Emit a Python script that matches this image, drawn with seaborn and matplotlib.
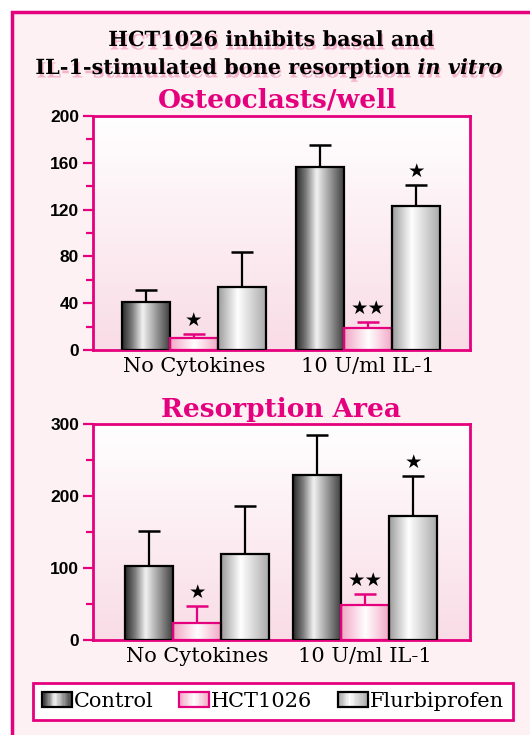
import numpy as np
import pandas as pd
import matplotlib
matplotlib.use("Agg")
import matplotlib.pyplot as plt
import matplotlib.patheffects as pe
from matplotlib.colors import LinearSegmentedColormap
from matplotlib.patches import Rectangle, Patch
from matplotlib.legend_handler import HandlerBase
from matplotlib.ticker import MultipleLocator
import seaborn as sns

# data
groups = ["No Cytokines", "10 U/ml IL-1"]
treatments = ["Control", "HCT1026", "Flurbiprofen"]

osteo_control = [41, 156]
osteo_hct = [10, 19]
osteo_flurbi = [54, 123]
osteo_control_err = [10, 19]
osteo_hct_err = [3.5, 5]
osteo_flurbi_err = [30, 18]

resorp_control = [103, 229]
resorp_hct = [23, 48]
resorp_flurbi = [120, 172]
resorp_control_err = [49, 56]
resorp_hct_err = [24, 16]
resorp_flurbi_err = [66, 56]

# significance marks per treatment, per group
stars_hct = ["★", "★★"]
stars_flurbi = ["", "★"]

PINK = "#E5007E"
SHADOW = "#F5B3CC"

sns.set_style("white")
plt.rcParams["font.family"] = ["DejaVu Sans"]
plt.rcParams["text.color"] = "black"
plt.rcParams["xtick.labelcolor"] = "black"
plt.rcParams["ytick.labelcolor"] = "black"
plt.rcParams["mathtext.fontset"] = "custom"
plt.rcParams["mathtext.it"] = "DejaVu Serif:italic:bold"
plt.rcParams["mathtext.rm"] = "DejaVu Serif:bold"

control_cmap = LinearSegmentedColormap.from_list(
    "ctrl", [(0, "#2a2a2a"), (0.2, "#7a7a7a"), (0.42, "#f2f2f2"), (0.7, "#9a9a9a"), (1, "#3a3a3a")])
hct_cmap = LinearSegmentedColormap.from_list(
    "hct", [(0, "#F2A6C4"), (0.5, "#FFFFFF"), (1, "#F2A6C4")])
flurbi_cmap = LinearSegmentedColormap.from_list(
    "flu", [(0, "#9c9c9c"), (0.4, "#FFFFFF"), (1, "#a8a8a8")])
cmaps = {"Control": control_cmap, "HCT1026": hct_cmap, "Flurbiprofen": flurbi_cmap}
edges = {"Control": "black", "HCT1026": PINK, "Flurbiprofen": "black"}
bg_cmap = LinearSegmentedColormap.from_list("bg", ["#FFFFFF", "#F9DCE6"])

fig = plt.figure(figsize=(5.3, 7.35), dpi=100)
fig.patch.set_facecolor("white")
frame = Rectangle((12 / 530, -0.05), 1.0, 1 - 12 / 735 + 0.05, transform=fig.transFigure,
                  facecolor="#FDF1F4", edgecolor=PINK, lw=2.5, zorder=-10)
fig.add_artist(frame)

ax1 = fig.add_axes([0.1755, 0.5238, 0.711, 0.3184])
ax2 = fig.add_axes([0.1755, 0.1293, 0.711, 0.2939])


def draw_panel(ax, ctrl, hct, flu, ctrl_e, hct_e, flu_e, ymax, major, minor, xlim, width):
    df = pd.DataFrame({
        "group": groups * 3,
        "treatment": np.repeat(treatments, len(groups)),
        "value": ctrl + hct + flu,
        "err": ctrl_e + hct_e + flu_e,
    })
    sns.barplot(data=df, x="group", y="value", hue="treatment", order=groups,
                hue_order=treatments, width=width, errorbar=None, legend=False,
                saturation=1, ax=ax)
    ax.set_facecolor("none")
    grad = np.linspace(0, 1, 256).reshape(-1, 1)
    ax.imshow(grad, cmap=bg_cmap, extent=[0, 1, 0, 1], transform=ax.transAxes,
              aspect="auto", zorder=0)

    for cont, treat in zip(ax.containers, treatments):
        sub = df[df["treatment"] == treat]
        xs, hs = [], []
        for patch in cont:
            x0, w, h = patch.get_x(), patch.get_width(), patch.get_height()
            row = np.linspace(0, 1, 128).reshape(1, -1)
            ax.imshow(row, cmap=cmaps[treat], extent=[x0, x0 + w, 0, h],
                      aspect="auto", zorder=2, interpolation="bicubic")
            patch.set_facecolor("none")
            patch.set_edgecolor(edges[treat])
            patch.set_linewidth(1.6)
            patch.set_zorder(3)
            xs.append(x0 + w / 2)
            hs.append(h)
        errs = sub["err"].to_numpy()
        ax.errorbar(xs, hs, yerr=[np.zeros(len(errs)), errs], fmt="none",
                    ecolor=edges[treat], elinewidth=1.6, capsize=8, capthick=1.8,
                    zorder=1.5)
        marks = stars_hct if treat == "HCT1026" else stars_flurbi if treat == "Flurbiprofen" else []
        for x, h, e, m in zip(xs, hs, errs, marks):
            if m:
                ax.annotate(m, (x, h + e), xytext=(0, 3), textcoords="offset points",
                            ha="center", va="bottom", fontsize=14, color="black",
                            family="DejaVu Sans")

    ax.set_xlim(*xlim)
    ax.set_ylim(0, ymax)
    ax.yaxis.set_major_locator(MultipleLocator(major))
    ax.yaxis.set_minor_locator(MultipleLocator(minor))
    for s in ax.spines.values():
        s.set_visible(True)
        s.set_color(PINK)
        s.set_linewidth(2)
    ax.tick_params(axis="y", which="both", direction="out", color=PINK, width=1.6, left=True)
    ax.tick_params(axis="y", which="major", length=7, pad=3, labelsize=12.5)
    ax.tick_params(axis="y", which="minor", length=5)
    ax.tick_params(axis="x", length=0, pad=5)
    for lab in ax.get_yticklabels():
        lab.set_fontweight("bold")
        lab.set_family("Liberation Sans")
        lab.set_color("black")
    for lab in ax.get_xticklabels():
        lab.set_family("DejaVu Serif")
        lab.set_fontsize(15)
        lab.set_color("black")
    ax.set_xlabel("")
    ax.set_ylabel("")


draw_panel(ax1, osteo_control, osteo_hct, osteo_flurbi,
           osteo_control_err, osteo_hct_err, osteo_flurbi_err,
           200, 40, 20, (-0.58, 1.586), 0.83)
draw_panel(ax2, resorp_control, resorp_hct, resorp_flurbi,
           resorp_control_err, resorp_hct_err, resorp_flurbi_err,
           300, 100, 50, (-0.62, 1.625), 0.86)

shadow = [pe.withSimplePatchShadow(offset=(1, -2.5), shadow_rgbFace=SHADOW, alpha=1.0)]
fig.text(272 / 530, 1 - 40 / 735, "HCT1026 inhibits basal and", ha="center", va="center",
         fontsize=15, fontweight="bold", family="DejaVu Serif", color="black",
         path_effects=shadow)
fig.text(270 / 530, 1 - 68 / 735, r"IL-1-stimulated bone resorption $\mathit{in\ vitro}$",
         ha="center", va="center", fontsize=15, fontweight="bold", family="DejaVu Serif",
         color="black", path_effects=shadow)
fig.text(277 / 530, 1 - 100 / 735, "Osteoclasts/well", ha="center", va="center",
         fontsize=19, fontweight="bold", family="DejaVu Serif", color=PINK)
fig.text(281 / 530, 1 - 410 / 735, "Resorption Area", ha="center", va="center",
         fontsize=19, fontweight="bold", family="DejaVu Serif", color=PINK)


class GradientHandler(HandlerBase):
    def __init__(self, cmap, edge):
        super().__init__()
        self.cmap = cmap
        self.edge = edge

    def create_artists(self, legend, orig_handle, xdescent, ydescent, width, height,
                       fontsize, trans):
        arts = []
        n = 24
        for i in range(n):
            arts.append(Rectangle((-xdescent + i * width / n, -ydescent), width / n + 0.3,
                                  height, facecolor=self.cmap((i + 0.5) / n),
                                  edgecolor="none", transform=trans))
        arts.append(Rectangle((-xdescent, -ydescent), width, height, facecolor="none",
                              edgecolor=self.edge, lw=1.6, transform=trans))
        return arts


handles = [Patch(label=t) for t in treatments]
hmap = {h: GradientHandler(cmaps[t], edges[t]) for h, t in zip(handles, treatments)}
leg = fig.legend(handles=handles, handler_map=hmap, loc="center",
                 bbox_to_anchor=(273 / 530, 1 - 701.5 / 735), ncol=3, frameon=True,
                 fancybox=False, edgecolor=PINK, facecolor="white", framealpha=1,
                 prop={"family": "DejaVu Serif", "size": 15}, handlelength=1.45,
                 handleheight=0.75, handletextpad=0.1, columnspacing=1.2,
                 borderpad=0.45, borderaxespad=0)
for t in leg.get_texts():
    t.set_color("black")
leg.get_frame().set_linewidth(2)

fig.savefig("out.png", dpi=100)
